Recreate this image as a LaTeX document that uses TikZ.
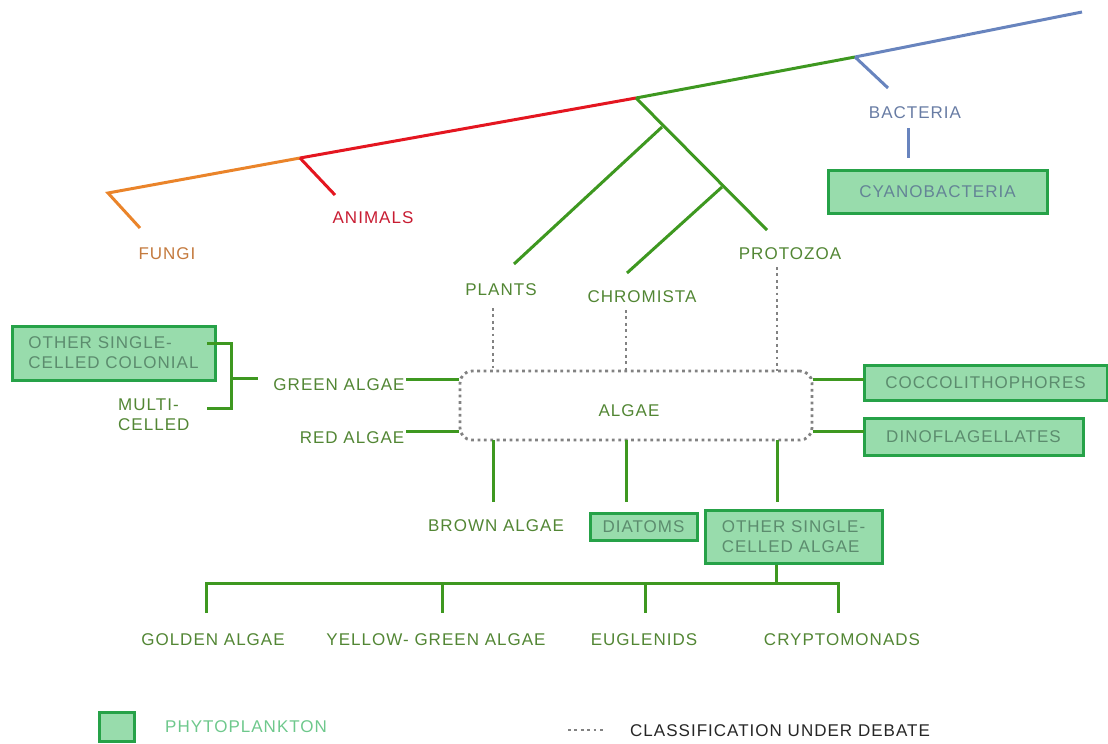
\documentclass[tikz,border=0pt]{standalone}
\usepackage{fontspec}
\setmainfont{Liberation Sans}[LetterSpace=6]
\definecolor{lgreen}{RGB}{62,152,32}
\definecolor{tgreen}{RGB}{82,134,52}
\definecolor{bfill}{RGB}{152,220,172}
\definecolor{bdraw}{RGB}{38,162,72}
\definecolor{btext}{RGB}{92,140,110}
\definecolor{dgray}{RGB}{130,130,130}
\definecolor{lorange}{RGB}{234,132,42}
\definecolor{torange}{RGB}{196,122,62}
\definecolor{lred}{RGB}{228,22,32}
\definecolor{tred}{RGB}{200,28,50}
\definecolor{lblue}{RGB}{104,132,190}
\definecolor{tblue}{RGB}{104,124,164}
\definecolor{cyantext}{RGB}{100,132,150}
\definecolor{legtext}{RGB}{110,200,140}
\begin{document}
\begin{tikzpicture}[x=1pt,y=-1pt,
  lab/.style={font=\fontsize{17}{20}\selectfont, text=tgreen, inner sep=0pt, align=center},
  phyto/.style={draw=bdraw, fill=bfill, line width=3pt, text=btext, font=\fontsize{17}{20}\selectfont, inner sep=0pt, align=center},
  gline/.style={draw=lgreen, line width=3pt},
  deb/.style={draw=dgray, line width=2.8pt, dash pattern=on 2.8pt off 3.6pt}]
\useasboundingbox (0,0) rectangle (1108,744);
% ---- main tree ----
\coordinate (f) at (108,193);
\coordinate (an) at (300,158);
\coordinate (g) at (636,98);
\coordinate (b) at (855,57);
\coordinate (tip) at (1082,12);
\coordinate (fe) at (140,228);
\coordinate (ane) at (335,195);
\coordinate (g1) at (662,127);
\coordinate (g2) at (722,187);
\coordinate (ple) at (514,264);
\coordinate (che) at (627,273);
\coordinate (pre) at (767,230);
\coordinate (be) at (888,88);
\draw[draw=lorange, line width=3pt] (fe) -- (f) -- (an);
\draw[draw=lred, line width=3pt] (an) -- (g);
\draw[draw=lred, line width=3pt] (an) -- (ane);
\draw[gline] (g) -- (b);
\draw[gline] (g) -- (pre);
\draw[gline] (g1) -- (ple);
\draw[gline] (g2) -- (che);
\draw[draw=lblue, line width=3pt] (b) -- (tip);
\draw[draw=lblue, line width=3pt] (b) -- (be);
% ---- labels of tree ----
\node[lab, text=torange] (fungi) at (167,254) {FUNGI};
\node[lab, text=tred] (animals) at (373,218) {ANIMALS};
\node[lab] (plants) at (501,290) {PLANTS};
\node[lab] (chrom) at (642,297) {CHROMISTA};
\node[lab] (proto) at (790,254) {PROTOZOA};
\node[lab, text=tblue] (bact) at (915,113) {BACTERIA};
\node[phyto, text=cyantext, minimum width=219pt, minimum height=43pt] (cyano) at (937.5,191.5) {CYANOBACTERIA};
\coordinate (bc1) at (908,128);
\coordinate (bc2) at (908,158);
\draw[draw=lblue, line width=3pt] (bc1) -- (bc2);
% ---- algae box ----
\node[deb, rounded corners=12pt, minimum width=352pt, minimum height=69pt] (algae) at (636,405.5) {};
\node[lab] (algaetxt) at (629,411) {ALGAE};
\coordinate (at1) at (493,371);
\coordinate (at2) at (626,371);
\coordinate (at3) at (777,371);
\coordinate (ds1) at (493,308);
\coordinate (ds2) at (626,310);
\coordinate (ds3) at (777,267);
\draw[deb] (ds1) -- (at1);
\draw[deb] (ds2) -- (at2);
\draw[deb] (ds3) -- (at3);
% ---- left side ----
\node[lab] (galg) at (339,385) {GREEN ALGAE};
\node[lab] (ralg) at (352,438) {RED ALGAE};
\coordinate (gl) at (406,379);
\coordinate (rl) at (406,431);
\draw[gline] (gl) -- (gl -| algae.west);
\draw[gline] (rl) -- (rl -| algae.west);
\node[phyto, minimum width=203pt, minimum height=54pt, align=left] (colon) at (113.5,353) {OTHER SINGLE-\\CELLED COLONIAL};
\node[lab, align=left, anchor=west] (multi) at (118,415) {MULTI-\\CELLED};
\coordinate (bt) at (207,343);
\coordinate (bb) at (207,408);
\coordinate (btc) at (231,343);
\coordinate (bbc) at (231,408);
\coordinate (bmc) at (231,378);
\coordinate (bm) at (258,378);
\draw[gline] (bt) -- (btc) -- (bbc) -- (bb);
\draw[gline] (bmc) -- (bm);
% ---- right side ----
\node[phyto, minimum width=243pt, minimum height=35pt] (cocco) at (985.5,382.5) {COCCOLITHOPHORES};
\node[phyto, minimum width=219pt, minimum height=37pt] (dino) at (973.5,436.5) {DINOFLAGELLATES};
\coordinate (cr) at (864,379);
\coordinate (dr) at (864,431);
\draw[gline] (cr -| algae.east) -- (cr);
\draw[gline] (dr -| algae.east) -- (dr);
% ---- below ----
\coordinate (ab1) at (493,440);
\coordinate (ab2) at (626,440);
\coordinate (ab3) at (777,440);
\coordinate (ae1) at (493,502);
\coordinate (ae2) at (626,502);
\coordinate (ae3) at (777,502);
\draw[gline] (ab1) -- (ae1);
\draw[gline] (ab2) -- (ae2);
\draw[gline] (ab3) -- (ae3);
\node[lab] (brown) at (496,526) {BROWN ALGAE};
\node[phyto, minimum width=107pt, minimum height=27pt] (diat) at (643.5,526.5) {DIATOMS};
\node[phyto, minimum width=177pt, minimum height=53pt, align=left] (osca) at (793.5,536.5) {OTHER SINGLE-\\CELLED ALGAE};
\coordinate (h0) at (776,583);
\coordinate (h1) at (206,583);
\coordinate (h2) at (442,583);
\coordinate (h3) at (645,583);
\coordinate (h4) at (838,583);
\coordinate (d1) at (206,613);
\coordinate (d2) at (442,613);
\coordinate (d3) at (645,613);
\coordinate (d4) at (838,613);
\draw[gline] (osca.south -| h0) -- (h0);
\draw[gline] (d1) -- (h1) -- (h4) -- (d4);
\draw[gline] (h2) -- (d2);
\draw[gline] (h3) -- (d3);
\node[lab] (golden) at (213,640) {GOLDEN ALGAE};
\node[lab] (yellow) at (436,640) {YELLOW- GREEN ALGAE};
\node[lab] (eugl) at (644,640) {EUGLENIDS};
\node[lab] (crypt) at (842,640) {CRYPTOMONADS};
% ---- legend ----
\node[phyto, minimum width=35pt, minimum height=29pt] (legbox) at (116.5,727) {};
\node[lab, text=legtext, anchor=west] (legphy) at (165,727) {PHYTOPLANKTON};
\coordinate (l1) at (568,730);
\coordinate (l2) at (606,730);
\draw[deb] (l1) -- (l2);
\node[lab, text=black!85, anchor=west] (legdeb) at (630,731) {CLASSIFICATION UNDER DEBATE};
\end{tikzpicture}
\end{document}
